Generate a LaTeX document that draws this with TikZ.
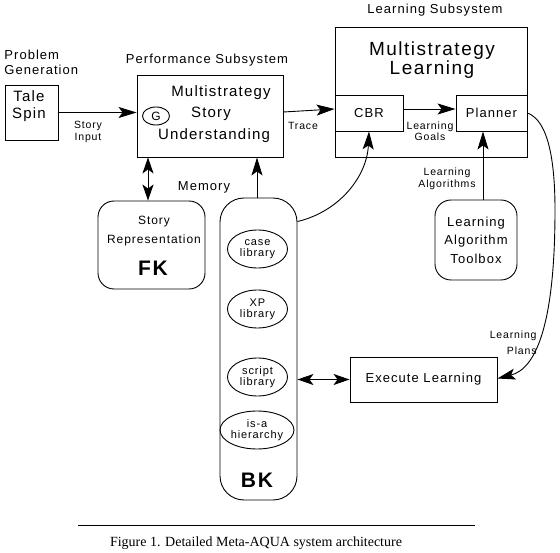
\documentclass[tikz,border=0pt]{standalone}
\usepackage{fontspec}
\setmainfont[LetterSpace=8]{Liberation Sans}
\newfontfamily\capfont{Liberation Serif}
\usetikzlibrary{arrows.meta,shapes.geometric}

\newcommand\tinysize{\fontsize{10.5}{11.5}\selectfont}
\newcommand\libsize{\fontsize{11}{11}\selectfont}
\newcommand\midsize{\fontsize{13}{15}\selectfont}
\newcommand\boxsize{\fontsize{13}{18.5}\selectfont}
\newcommand\perfsize{\fontsize{15}{17}\selectfont}
\newcommand\bigsize{\fontsize{19}{19}\selectfont}
\newcommand\kbsize{\fontsize{21}{21}\selectfont\bfseries}

\begin{document}
\begin{tikzpicture}[x=1pt,y=-1pt,line width=0.9pt,
	box/.style={draw,inner sep=0pt},
	rbox/.style={draw,inner sep=0pt,rounded corners=16pt},
	lib/.style={draw,ellipse,inner sep=0pt,minimum width=60pt,minimum height=38pt,align=center,font=\libsize},
	lbl/.style={align=center,inner sep=0pt},
	arr/.style={-{Stealth[length=18pt,width=11pt,inset=4pt]}},
	dbl/.style={{Stealth[length=16pt,width=11pt,inset=4pt]}-{Stealth[length=16pt,width=11pt,inset=4pt]}}]
	\useasboundingbox (0,0) rectangle (560,553);

	% problem generation
	\node[lbl,anchor=west,align=left,font=\midsize] (probgen) at (4,62) {Problem\\Generation};
	\node[box,minimum width=53pt,minimum height=55pt] (tale) at (31.5,112.5) {};
	\node[lbl,font=\fontsize{15}{17}\selectfont] (taletext) at (29,106) {Tale\\Spin};

	% performance subsystem
	\node[lbl,font=\midsize] (perftitle) at (207,60) {Performance Subsystem};
	\node[box,minimum width=146pt,minimum height=82pt] (perf) at (210,116) {};
	\node[lbl,font=\perfsize] (perfa) at (221,93) {Multistrategy};
	\node[lbl,font=\perfsize] (perfb) at (211,114) {Story};
	\node[lbl,font=\perfsize] (perfc) at (214,136) {Understanding};
	\node[draw,ellipse,minimum width=27pt,minimum height=18pt,inner sep=0pt,font=\fontsize{12}{12}\selectfont] (goal) at (156,116) {G};

	% learning subsystem
	\node[lbl,font=\midsize] (learntitle) at (435,10) {Learning Subsystem};
	\node[box,minimum width=192pt,minimum height=130pt] (learn) at (431,92) {};
	\node[lbl,font=\bigsize] (learntext) at (432,60) {Multistrategy\\Learning};
	\node[box,minimum width=68pt,minimum height=36pt,font=\midsize] (cbr) at (369,113) {CBR};
	\node[box,minimum width=71pt,minimum height=36pt,font=\midsize] (planner) at (491.5,113) {Planner};

	% memory
	\node[lbl,font=\midsize] (memory) at (204,187) {Memory};
	\node[rbox,minimum width=107pt,minimum height=88pt] (storyrep) at (151.5,245) {};
	\node[lbl,font=\fontsize{12}{19}\selectfont] (storytext) at (154,231) {Story\\Representation};
	\node[lbl,font=\kbsize] (fk) at (153,268) {FK};
	\node[rbox,rounded corners=24pt,minimum width=77pt,minimum height=302pt] (bk) at (258.5,349) {};
	\node[lib] (caselib) at (257.5,249) {case\\library};
	\node[lib] (xplib) at (257.5,309) {XP\\library};
	\node[lib] (scriptlib) at (257.5,377) {script\\library};
	\node[lib] (isa) at (257,430) {is-a\\hierarchy};
	\node[lbl,font=\kbsize] (bktext) at (257,480) {BK};

	% toolbox and execution
	\node[rbox,minimum width=82pt,minimum height=80pt,align=center,font=\boxsize] (toolbox) at (476,240) {Learning\\Algorithm\\Toolbox};
	\node[box,minimum width=147pt,minimum height=45pt,font=\midsize] (exec) at (423.5,379.5) {Execute Learning};

	% connectors
	\draw[arr] (tale.east) -- (tale.east -| perf.west);
	\node[lbl,font=\tinysize] (storyinput) at (88,132) {Story\\Input};
	\draw[arr] ([yshift=4pt]perf.east) -- ([yshift=4pt]cbr.west);
	\node[lbl,font=\tinysize] (trace) at (303,126) {Trace};
	\draw[arr] ([yshift=4pt]cbr.east) -- ([yshift=4pt]planner.west);
	\node[lbl,font=\tinysize] (goals) at (430,131) {Learning\\Goals};
	\draw[dbl] (perf.south -| 148,0) -- (storyrep.north -| 148,0);
	\draw[arr] (bk.north -| 257,0) -- (perf.south -| 257,0);
	\draw[arr] ([yshift=-24pt]bk.north east) .. controls +(42,-10) and +(-2,45) .. (cbr.south);
	\draw[arr] (toolbox.north -| 483,0) -- (planner.south -| 483,0);
	\node[lbl,font=\tinysize] (algos) at (447,179) {Learning\\Algorithms};
	\draw[arr] (planner.east) .. controls +(22,8) and +(0,-45) .. (555,210)
		.. controls +(0,110) and +(40,-10) .. ([yshift=1pt]exec.east);
	\node[lbl,anchor=east,align=right,font=\fontsize{10.5}{16}\selectfont] (plans) at (537,343) {Learning\\Plans};
	\draw[dbl] (bk.east |- exec.west) -- (exec.west);

	% caption
	\draw[line width=0.6pt] (78,525) -- (475,525);
	\node[lbl,font=\capfont\fontsize{14}{14}\selectfont] (caption) at (256,543) {Figure 1. Detailed Meta-AQUA system architecture};
\end{tikzpicture}
\end{document}
